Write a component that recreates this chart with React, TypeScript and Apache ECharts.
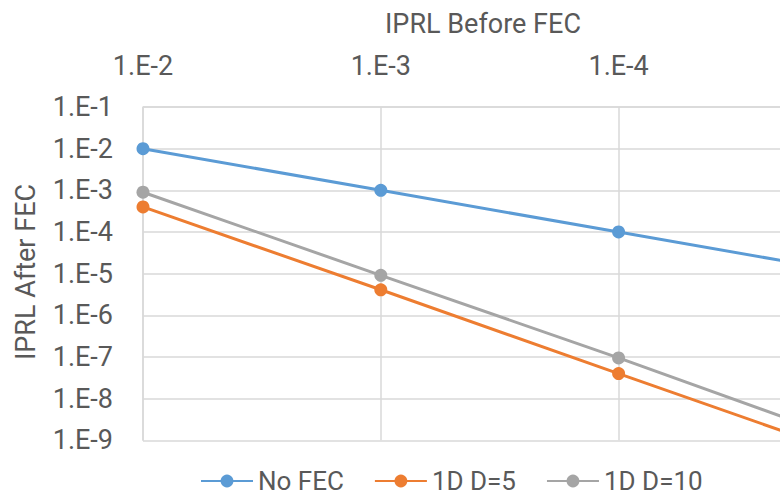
import React, { useEffect, useRef } from "react";
import * as echarts from "echarts";

const categories = ["1.E-2", "1.E-3", "1.E-4", "1.E-5"];
const noFec = [1e-2, 1e-3, 1e-4, 1e-5];
const d5 = [4.0e-4, 4.1e-6, 4.0e-8, 4.0e-10];
const d10 = [9.0e-4, 9.1e-6, 9.5e-8, 8.5e-10];
const seriesNames = ["No FEC", "1D D=5", "1D D=10"];
const colors = ["#5B9BD5", "#ED7D31", "#A5A5A5"];
const xTitle = "IPRL Before FEC";
const yTitle = "IPRL After FEC";

const FONT = "Roboto";
const FS = 27;
const TXT = "#595959";
const GRID = "#D9D9D9";

export default function App() {
  const ref = useRef<HTMLDivElement>(null);
  useEffect(() => {
    if (!ref.current) return;
    const chart = echarts.init(ref.current, undefined, { renderer: "svg" });
    const values = [noFec, d5, d10];
    chart.setOption({
      animation: false,
      grid: { left: 143, top: 107, right: 43.6, bottom: 54.7 },
      xAxis: {
        type: "category",
        position: "top",
        boundaryGap: false,
        data: categories,
        axisLine: { show: false },
        axisTick: { show: false },
        splitLine: { show: true, interval: 0, lineStyle: { color: GRID, width: 1.5 } },
        axisLabel: {
          interval: (i: number) => i < 3,
          fontSize: FS,
          fontFamily: FONT,
          color: TXT,
          margin: 28,
        },
      },
      yAxis: {
        type: "log",
        logBase: 10,
        min: 1e-9,
        max: 1e-1,
        splitNumber: 8,
        axisLine: { show: true, lineStyle: { color: GRID, width: 1.5 } },
        axisTick: { show: false },
        splitLine: { show: true, lineStyle: { color: GRID, width: 1.5 } },
        axisLabel: {
          fontSize: FS,
          fontFamily: FONT,
          color: TXT,
          margin: 30,
          formatter: (v: number) => "1.E" + Math.round(Math.log10(v)),
        },
      },
      legend: {
        left: 200,
        top: 468,
        padding: 0,
        itemWidth: 52,
        itemHeight: 16,
        itemGap: 30,
        data: seriesNames,
        textStyle: { fontSize: 26, fontFamily: FONT, color: TXT },
      },
      graphic: [
        {
          type: "text",
          x: 483,
          y: 24,
          style: {
            text: xTitle,
            fontSize: FS,
            fontFamily: FONT,
            fill: TXT,
            textAlign: "center",
            textVerticalAlign: "middle",
          },
        },
        {
          type: "text",
          x: 26,
          y: 272,
          rotation: Math.PI / 2,
          style: {
            text: yTitle,
            fontSize: FS,
            fontFamily: FONT,
            fill: TXT,
            textAlign: "center",
            textVerticalAlign: "middle",
          },
        },
      ],
      series: seriesNames.map((name, i) => ({
        name,
        type: "line",
        data: values[i],
        symbol: "circle",
        symbolSize: 13,
        color: colors[i],
        lineStyle: { width: 3, color: colors[i] },
        itemStyle: { color: colors[i] },
      })),
    });
    return () => chart.dispose();
  }, []);
  return (
    <div
      style={{
        position: "absolute",
        left: 0,
        top: 0,
        width: 780,
        height: 495,
        overflow: "hidden",
        background: "#fff",
      }}
    >
      <div ref={ref} style={{ width: 900, height: 495 }} />
    </div>
  );
}
